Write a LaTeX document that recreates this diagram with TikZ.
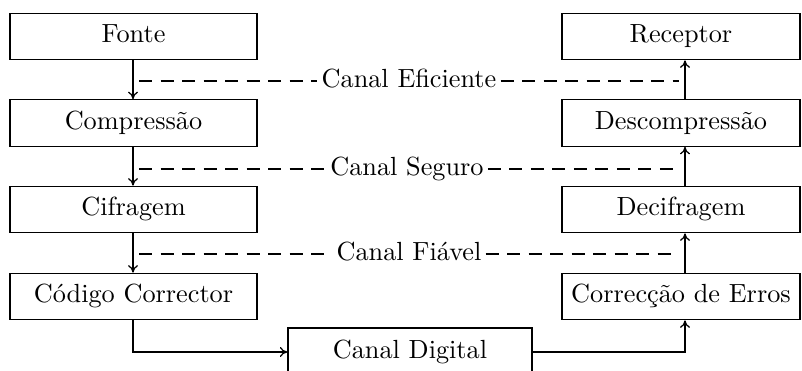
\documentclass[tikz,border=0pt]{standalone}
\usetikzlibrary{arrows.meta,calc}
\begin{document}
\begin{tikzpicture}[x=0.4pt,y=-0.4pt,
  every node/.style={font=\fontsize{10.5}{12}\selectfont,text height=7.4pt,text depth=2.2pt},
  blk/.style={draw,line width=0.5pt,minimum height=18.6pt,inner sep=0pt},
  lblk/.style={blk,minimum width=98.8pt},
  rblk/.style={blk,minimum width=95.2pt},
  flow/.style={line width=0.5pt,-{Computer Modern Rightarrow[length=3pt,width=4pt]}},
  chan/.style={line width=0.6pt,dash pattern=on 5.2pt off 3.4pt},
  lab/.style={inner sep=1.5pt}]
\clip (0,0) rectangle (802,371);
\useasboundingbox (0,0) rectangle (802,371);
% left column
\node[lblk] (fonte) at (133.5,36.5) {Fonte};
\node[lblk] (comp) at (133.5,123) {Compress\~ao};
\node[lblk] (cif) at (133.5,209.5) {Cifragem};
\node[lblk] (cod) at (133.5,296.5) {C\'odigo Corrector};
% right column
\node[rblk] (rec) at (681,36.5) {Receptor};
\node[rblk] (desc) at (681,123) {Descompress\~ao};
\node[rblk] (decif) at (681,209.5) {Decifragem};
\node[rblk] (corr) at (681,296.5) {Correc\c{c}\~ao de Erros};
% digital channel
\node[blk,minimum width=97.6pt,minimum height=19.2pt] (dig) at (410,352) {Canal Digital};
\coordinate (lx) at (133,0);
\coordinate (rx) at (685,0);
% left arrows
\draw[flow] (fonte.south -| lx) -- (comp.north -| lx);
\draw[flow] (comp.south -| lx) -- (cif.north -| lx);
\draw[flow] (cif.south -| lx) -- (cod.north -| lx);
% right arrows
\draw[flow] (desc.north -| rx) -- (rec.south -| rx);
\draw[flow] (decif.north -| rx) -- (desc.south -| rx);
\draw[flow] (corr.north -| rx) -- (decif.south -| rx);
% bottom path
\draw[flow] (cod.south -| lx) |- (dig.west);
\draw[flow] (dig.east) -| (corr.south -| rx);
% channels
\node[lab] (ce) at (409,81) {Canal Eficiente};
\node[lab] (cs) at (407,169) {Canal Seguro};
\node[lab] (cf) at (409,254) {Canal Fi\'avel};
\coordinate (ce1) at (139,81); \coordinate (ce2) at (679,81);
\coordinate (cs1) at (139,169); \coordinate (cs2) at (679,169);
\coordinate (cf1) at (139,254); \coordinate (cf2) at (679,254);
\draw[chan] (ce1) -- (ce.west);
\draw[chan] (ce.east) -- (ce2);
\draw[chan] (cs1) -- (cs.west);
\draw[chan] (cs.east) -- (cs2);
\draw[chan] (cf1) -- (cf.west);
\draw[chan] (cf.east) -- (cf2);
\end{tikzpicture}
\end{document}
